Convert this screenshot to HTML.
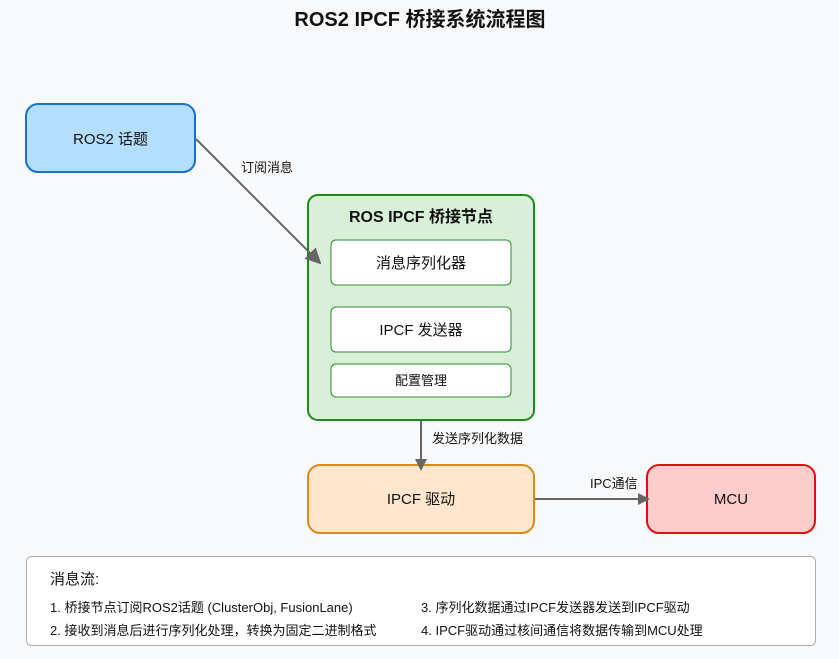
<!DOCTYPE html>
<html><head><meta charset="utf-8"><style>
html,body{margin:0;padding:0;background:#f8f9fb;}
svg{display:block;font-family:"Liberation Sans","Noto Sans CJK SC",sans-serif;}
</style></head><body>
<svg width="839" height="659" viewBox="0 0 839 659" xmlns="http://www.w3.org/2000/svg">
<rect width="839" height="659" fill="#f8f9fb"/>
<defs><marker id="ah" markerWidth="12" markerHeight="12" refX="10" refY="6" orient="auto" markerUnits="userSpaceOnUse" viewBox="0 0 12 12"><path d="M0,0 L12,6 L0,12 z" fill="#666"/></marker>
<marker id="ah2" markerWidth="16" markerHeight="16" refX="14" refY="8" orient="auto" markerUnits="userSpaceOnUse" viewBox="0 0 16 16"><path d="M0,0 L16,8 L0,16 z" fill="#666"/></marker></defs>
<text x="420" y="26" text-anchor="middle" font-size="20" font-weight="bold" fill="#111">ROS2 IPCF 桥接系统流程图</text>

<rect x="26" y="104" width="169" height="68" rx="12" fill="#b3deff" stroke="#1a6fcf" stroke-width="2"/>
<text x="110.5" y="144" text-anchor="middle" font-size="15" fill="#111">ROS2 话题</text>

<text x="241" y="172" font-size="13" fill="#111">订阅消息</text>

<rect x="308" y="195" width="226" height="225" rx="10" fill="#d8f0d8" stroke="#1e8a1e" stroke-width="2"/>
<text x="421" y="222" text-anchor="middle" font-size="16" font-weight="bold" fill="#111">ROS IPCF 桥接节点</text>
<rect x="331" y="240" width="180" height="45" rx="5" fill="#fff" stroke="#2e8b2e" stroke-width="1"/>
<text x="421" y="268" text-anchor="middle" font-size="15" fill="#111">消息序列化器</text>
<rect x="331" y="307" width="180" height="45" rx="5" fill="#fff" stroke="#2e8b2e" stroke-width="1"/>
<text x="421" y="335" text-anchor="middle" font-size="15" fill="#111">IPCF 发送器</text>
<rect x="331" y="364" width="180" height="33" rx="5" fill="#fff" stroke="#2e8b2e" stroke-width="1"/>
<text x="421" y="385" text-anchor="middle" font-size="13" fill="#111">配置管理</text>

<text x="432" y="443" font-size="13" fill="#111">发送序列化数据</text>

<rect x="308" y="465" width="226" height="68" rx="12" fill="#ffe6cc" stroke="#d98a1a" stroke-width="2"/>
<text x="421" y="504" text-anchor="middle" font-size="15" fill="#111">IPCF 驱动</text>

<text x="590" y="488" font-size="13" fill="#111">IPC通信</text>

<rect x="647" y="465" width="168" height="68" rx="12" fill="#ffcccc" stroke="#dd1111" stroke-width="2"/>
<text x="731" y="504" text-anchor="middle" font-size="15" fill="#111">MCU</text>

<line x1="196" y1="139" x2="320" y2="263" stroke="#666" stroke-width="2" marker-end="url(#ah2)"/>
<line x1="421" y1="421" x2="421" y2="469" stroke="#666" stroke-width="2" marker-end="url(#ah)"/>
<line x1="535" y1="499" x2="648" y2="499" stroke="#666" stroke-width="2" marker-end="url(#ah)"/>

<rect x="26.5" y="556.5" width="789" height="89" rx="5" fill="#fff" stroke="#aaa" stroke-width="1"/>
<text x="50" y="584" font-size="15" fill="#111">消息流:</text>
<text x="50" y="612" font-size="13" fill="#111">1. 桥接节点订阅ROS2话题 (ClusterObj, FusionLane)</text>
<text x="50" y="635" font-size="13" fill="#111">2. 接收到消息后进行序列化处理，转换为固定二进制格式</text>
<text x="421" y="612" font-size="13" fill="#111">3. 序列化数据通过IPCF发送器发送到IPCF驱动</text>
<text x="421" y="635" font-size="13" fill="#111">4. IPCF驱动通过核间通信将数据传输到MCU处理</text>
</svg>
</body></html>
